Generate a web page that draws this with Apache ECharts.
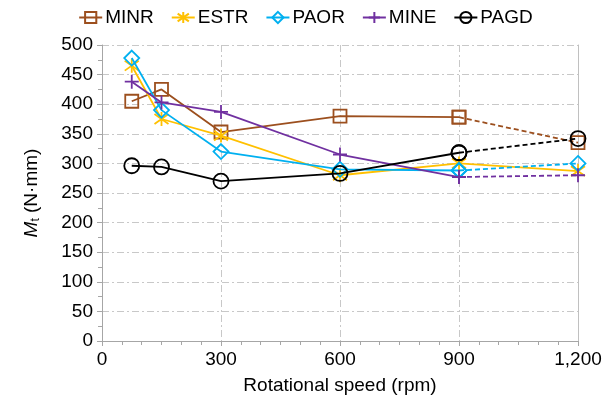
<!DOCTYPE html>
<html>
<head>
<meta charset="utf-8">
<script src="https://cdn.jsdelivr.net/npm/echarts@6/dist/echarts.min.js"></script>
<style>
  html, body { margin: 0; padding: 0; background: #fff; }
  #chart { width: 611px; height: 406px; }
</style>
</head>
<body>
<div id="chart"></div>
<script>
// Rotational speed (rpm) of each measurement
const speeds = [75, 150, 300, 600, 900, 1200];

// Torque M_t (N·mm) for each tool
const MINR = [405, 425, 353, 380, 378, 335];
const ESTR = [465, 375, 347, 280, 300, 287];
const PAOR = [478, 390, 320, 290, 288, 300];
const MINE = [438, 403, 387, 315, 277, 280];
const PAGD = [296, 294, 270, 283, 318, 342];

const seriesNames = ['MINR', 'ESTR', 'PAOR', 'MINE', 'PAGD'];
const seriesValues = [MINR, ESTR, PAOR, MINE, PAGD];
const seriesColors = ['#9C4F1E', '#FFC000', '#00B0F0', '#7030A0', '#000000'];
// the last segment (900 -> 1200) is dashed for these series
const dashedTail = [true, false, true, true, true];

const xTicks = [0, 300, 600, 900, 1200];
const yMin = 0, yMax = 500, yStep = 50;

const symbols = {
  MINR: 'path://M0 0L10 0L10 10L0 10Z',
  ESTR: 'path://M5 0L5 10M1 1.5L9 8.5M1 8.5L9 1.5',
  PAOR: 'path://M5 0L10 5L5 10L0 5Z',
  MINE: 'path://M5 0L5 10M0 5L10 5',
  PAGD: 'path://M10 5A5 5 0 1 1 0 5A5 5 0 1 1 10 5Z'
};
const symbolSizes = { MINR: 13, ESTR: 14, PAOR: 15, MINE: 14, PAGD: 15 };

const FONT = 'Liberation Sans, Arial, sans-serif';
const gridDash = [7, 3, 2, 3];

function pairs(xs, ys) { return xs.map((x, i) => [x, ys[i]]); }

const series = [];
seriesNames.forEach((name, k) => {
  const color = seriesColors[k];
  const pts = pairs(speeds, seriesValues[k]);
  const solidPts = dashedTail[k] ? pts.slice(0, pts.length - 1) : pts;
  const common = {
    name: name,
    type: 'line',
    symbol: symbols[name],
    symbolSize: symbolSizes[name],
    itemStyle: { color: 'none', borderColor: color, borderWidth: 1.8 },
    z: 2 + k
  };
  series.push(Object.assign({}, common, {
    data: solidPts,
    lineStyle: { color: color, width: 1.8, type: 'solid' }
  }));
  if (dashedTail[k]) {
    series.push(Object.assign({}, common, {
      data: pts.slice(pts.length - 2),
      lineStyle: { color: color, width: 1.8, type: [5, 3] }
    }));
  }
});

const chart = echarts.init(document.getElementById('chart'), null, { renderer: 'canvas' });
chart.setOption({
  animation: false,
  backgroundColor: '#ffffff',
  textStyle: { fontFamily: FONT },
  legend: {
    top: 3,
    left: 'center',
    itemWidth: 23,
    itemHeight: 14,
    itemGap: 17,
    data: seriesNames,
    textStyle: { fontFamily: FONT, fontSize: 19, color: '#000', padding: [0, 0, 0, -2] }
  },
  grid: { left: 102, right: 33, top: 45, bottom: 65, containLabel: false },
  xAxis: {
    type: 'value',
    min: xTicks[0],
    max: xTicks[xTicks.length - 1],
    interval: 300,
    name: 'Rotational speed (rpm)',
    nameLocation: 'middle',
    nameGap: 35,
    nameTextStyle: { fontFamily: FONT, fontSize: 19, color: '#000' },
    axisLine: { show: true, lineStyle: { color: '#a6a6a6', width: 1 } },
    axisTick: { show: true, length: 5, inside: false, lineStyle: { color: '#a6a6a6' } },
    minorTick: { show: true, splitNumber: 6, length: 4, lineStyle: { color: '#a6a6a6' } },
    axisLabel: {
      fontFamily: FONT, fontSize: 19, color: '#000', margin: 9,
      formatter: v => v.toLocaleString('en-US')
    },
    splitLine: {
      show: true,
      lineStyle: { color: '#c8c8c8', width: 1, type: gridDash }
    }
  },
  yAxis: [{
    type: 'value',
    min: yMin,
    max: yMax,
    interval: yStep,
    name: '{m|M}{s|t}{n| (N·mm)}',
    nameLocation: 'middle',
    nameGap: 60,
    nameRotate: 90,
    nameTextStyle: {
      fontFamily: FONT, fontSize: 19, color: '#000',
      rich: {
        m: { fontFamily: FONT, fontSize: 19, fontStyle: 'italic', color: '#000' },
        s: { fontFamily: FONT, fontSize: 12, color: '#000', padding: [8, 0, 0, 0] },
        n: { fontFamily: FONT, fontSize: 19, color: '#000' }
      }
    },
    axisLine: { show: true, lineStyle: { color: '#a6a6a6', width: 1 } },
    axisTick: { show: true, length: 5, inside: false, lineStyle: { color: '#a6a6a6' } },
    minorTick: { show: true, splitNumber: 2, length: 4, lineStyle: { color: '#a6a6a6' } },
    axisLabel: { fontFamily: FONT, fontSize: 19, color: '#000', margin: 9 },
    splitLine: {
      show: true,
      lineStyle: { color: '#c8c8c8', width: 1, type: gridDash }
    }
  }, {
    type: 'value',
    position: 'right',
    min: yMin,
    max: yMax,
    interval: yStep,
    axisLine: { show: true, lineStyle: { color: '#c0c0c0', width: 1 } },
    axisTick: { show: false },
    axisLabel: { show: false },
    splitLine: { show: false }
  }],
  series: series
});
</script>
</body>
</html>
